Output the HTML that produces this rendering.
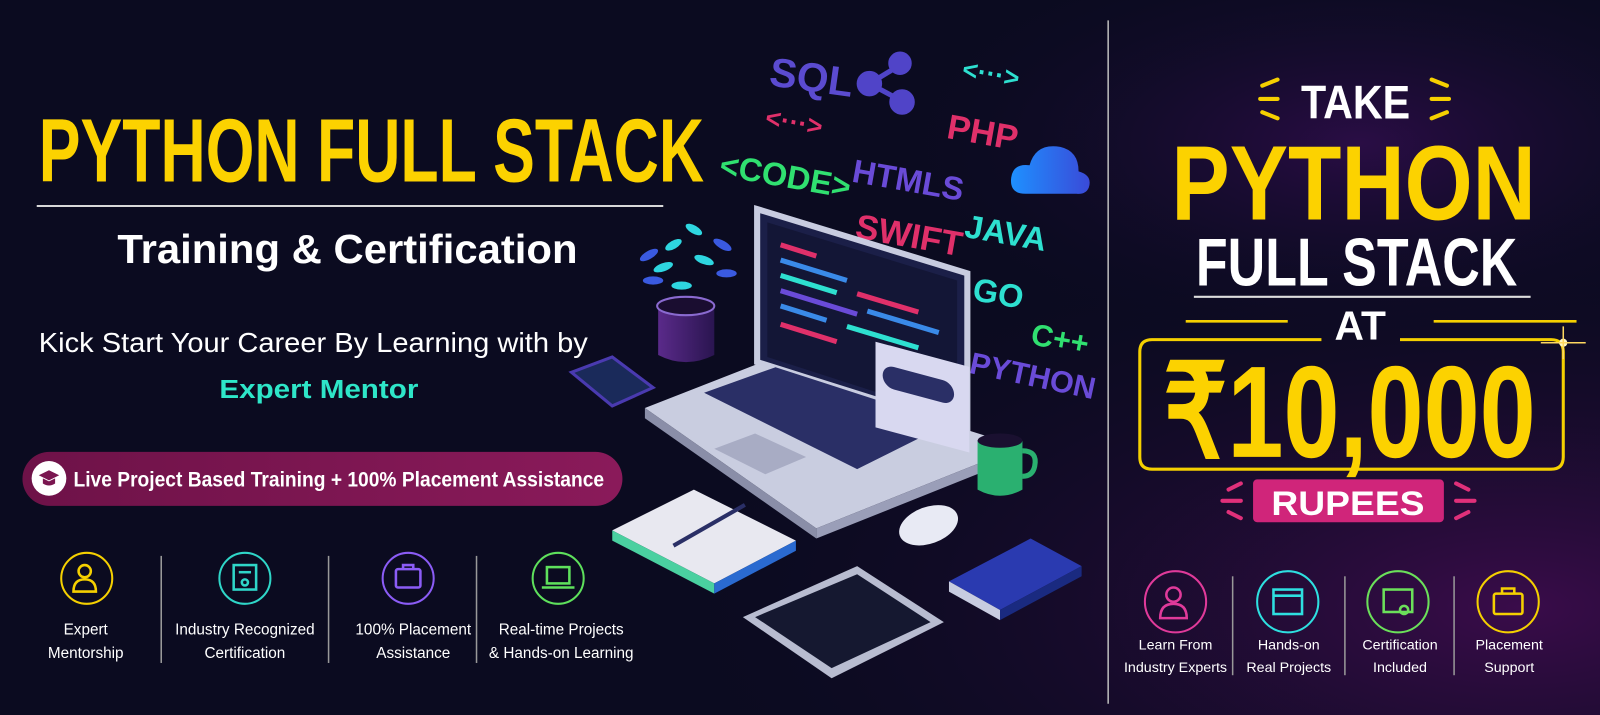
<!DOCTYPE html>
<html><head><meta charset="utf-8"><style>
html,body{margin:0;padding:0;background:#0a0a1e;width:1600px;height:715px;overflow:hidden}
svg{display:block}
text{font-family:"Liberation Sans",Arial,sans-serif}
</style></head><body>
<svg width="1600" height="715" viewBox="0 0 1568 701" preserveAspectRatio="none" xmlns="http://www.w3.org/2000/svg">
<defs>
<radialGradient id="bgR" cx="0.95" cy="0.85" r="0.55">
<stop offset="0" stop-color="#3a0c4a"/><stop offset="1" stop-color="#0b0b22" stop-opacity="0"/>
</radialGradient>
<radialGradient id="bgT" cx="0.85" cy="0.2" r="0.3">
<stop offset="0" stop-color="#2a0d45"/><stop offset="1" stop-color="#0b0b22" stop-opacity="0"/>
</radialGradient>
<linearGradient id="pill" x1="0" x2="1"><stop offset="0" stop-color="#6e1248"/><stop offset="1" stop-color="#8a1a5a"/></linearGradient>
<linearGradient id="pot" x1="0" x2="1"><stop offset="0" stop-color="#5a2a8a"/><stop offset="1" stop-color="#2a1550"/></linearGradient>
<linearGradient id="cloud" x1="0" x2="1"><stop offset="0" stop-color="#1e90ff"/><stop offset="1" stop-color="#3a4ad8"/></linearGradient>
</defs>
<rect width="1568" height="701" fill="#0b0b20"/>
<rect width="1568" height="701" fill="url(#bgR)"/>
<rect width="1568" height="701" fill="url(#bgT)"/>

<!-- LEFT -->
<text x="38" y="178" font-size="88" font-weight="bold" fill="#fcd200" textLength="652" lengthAdjust="spacingAndGlyphs">PYTHON FULL STACK</text>
<line x1="36" y1="202" x2="650" y2="202" stroke="#d8d8d8" stroke-width="2"/>
<text x="115" y="258" font-size="40" font-weight="bold" fill="#fff" textLength="451" lengthAdjust="spacingAndGlyphs">Training &amp; Certification</text>
<text x="38" y="345" font-size="27" fill="#fff" textLength="538" lengthAdjust="spacingAndGlyphs">Kick Start Your Career By Learning with by</text>
<text x="215" y="390" font-size="25" font-weight="bold" fill="#2ee6c8" textLength="195" lengthAdjust="spacingAndGlyphs">Expert Mentor</text>

<rect x="22" y="443" width="588" height="53" rx="26.5" fill="url(#pill)"/>
<circle cx="48" cy="469" r="17" fill="#fff"/>
<path d="M38 466 L48 461 L58 466 L48 471 Z" fill="#7a1650"/><path d="M42 469 v5 q6 4 12 0 v-5 l-6 3 z" fill="#7a1650"/>
<text x="72" y="477" font-size="21" font-weight="bold" fill="#fff" textLength="520" lengthAdjust="spacingAndGlyphs">Live Project Based Training + 100% Placement Assistance</text>

<g fill="none" stroke-width="2">
<circle cx="85" cy="567" r="25" stroke="#f5d000"/>
<circle cx="240" cy="567" r="25" stroke="#2fd6c8"/>
<circle cx="400" cy="567" r="25" stroke="#8b5cf6"/>
<circle cx="547" cy="567" r="25" stroke="#5ee05c"/>
</g>
<g fill="none" stroke-width="2.5">
<circle cx="83" cy="560" r="6" stroke="#f5d000"/><path d="M72 580 q0 -12 11 -12 q11 0 11 12 z" stroke="#f5d000"/>
<rect x="229" y="554" width="22" height="24" stroke="#2fd6c8"/><line x1="234" y1="561" x2="246" y2="561" stroke="#2fd6c8"/><circle cx="240" cy="571" r="3" stroke="#2fd6c8"/>
<rect x="388" y="558" width="24" height="18" rx="2" stroke="#8b5cf6"/><path d="M395 558 v-4 h10 v4" stroke="#8b5cf6"/>
<rect x="536" y="556" width="22" height="16" stroke="#5ee05c"/><line x1="531" y1="576" x2="563" y2="576" stroke="#5ee05c"/>
</g>
<g stroke="#999" stroke-width="1.5"><line x1="158" y1="545" x2="158" y2="650"/><line x1="322" y1="545" x2="322" y2="650"/><line x1="467" y1="545" x2="467" y2="650"/></g>
<g font-size="15" fill="#fff" text-anchor="middle">
<text x="84" y="622">Expert</text><text x="84" y="645">Mentorship</text>
<text x="240" y="622">Industry Recognized</text><text x="240" y="645">Certification</text>
<text x="405" y="622">100% Placement</text><text x="405" y="645">Assistance</text>
<text x="550" y="622">Real-time Projects</text><text x="550" y="645">&amp; Hands-on Learning</text>
</g>

<!-- MIDDLE ILLUSTRATION -->
<g font-weight="bold">
<text x="755" y="88" font-size="40" fill="#5b4bd0" transform="rotate(8 785 70)">SQL</text>
<g fill="#5044c8" stroke="#5044c8" stroke-width="5"><line x1="852" y1="82" x2="880" y2="65"/><line x1="852" y1="82" x2="882" y2="98"/><circle cx="852" cy="82" r="10"/><circle cx="882" cy="62" r="9"/><circle cx="884" cy="100" r="10"/></g>
<text x="943" y="80" font-size="26" fill="#2ee0d0" transform="rotate(10 965 72)">&lt;···&gt;</text>
<text x="750" y="128" font-size="26" fill="#e0306a" transform="rotate(10 775 120)">&lt;···&gt;</text>
<text x="928" y="140" font-size="34" fill="#e0306a" transform="rotate(10 955 130)">PHP</text>
<path d="M1005 190 q-16 0 -14 -16 q2 -14 18 -12 q6 -22 30 -18 q18 4 18 24 q14 4 10 16 q-3 7 -12 6 z" fill="url(#cloud)"/>
<text x="705" y="180" font-size="32" fill="#30e070" transform="rotate(10 750 170)">&lt;CODE&gt;</text>
<text x="835" y="185" font-size="32" fill="#6a4bd8" transform="rotate(10 875 175)">HTMLS</text>
<text x="838" y="240" font-size="34" fill="#e0306a" transform="rotate(10 878 230)">SWIFT</text>
<text x="945" y="238" font-size="32" fill="#2ee0d0" transform="rotate(10 978 230)">JAVA</text>
<text x="953" y="298" font-size="32" fill="#2ee0d0" transform="rotate(10 975 290)">GO</text>
<text x="1010" y="342" font-size="30" fill="#30e070" transform="rotate(10 1035 335)">C++</text>
<text x="950" y="375" font-size="30" fill="#6a4bd8" transform="rotate(12 995 365)">PYTHON</text>
</g>
<!-- plant -->
<g fill="#2ed6e0"><ellipse cx="660" cy="240" rx="9" ry="4" transform="rotate(-30 660 240)"/><ellipse cx="680" cy="225" rx="9" ry="4" transform="rotate(30 680 225)"/><ellipse cx="650" cy="262" rx="10" ry="4" transform="rotate(-20 650 262)"/><ellipse cx="690" cy="255" rx="10" ry="4" transform="rotate(20 690 255)"/><ellipse cx="668" cy="280" rx="10" ry="4"/></g>
<g fill="#3a5ae0"><ellipse cx="636" cy="250" rx="10" ry="4" transform="rotate(-30 636 250)"/><ellipse cx="708" cy="240" rx="10" ry="4" transform="rotate(30 708 240)"/><ellipse cx="640" cy="275" rx="10" ry="4"/><ellipse cx="712" cy="268" rx="10" ry="4"/></g>
<path d="M645 300 v48 q27 14 55 0 v-48 z" fill="url(#pot)"/><ellipse cx="672" cy="300" rx="28" ry="9" fill="#1a0d30" stroke="#8a6ad0" stroke-width="2"/>
<!-- phone -->
<polygon points="560,365 600,350 640,380 600,398" fill="#1a2a5a" stroke="#4a3ab0" stroke-width="3"/>
<!-- laptop screen -->
<polygon points="742,205 948,268 948,420 742,355" fill="#1b1f48" stroke="#c8cce0" stroke-width="6"/>
<polygon points="752,218 938,275 938,410 752,350" fill="#131636"/>
<g stroke-width="5">
<line x1="765" y1="240" x2="800" y2="251" stroke="#e0306a"/><line x1="765" y1="255" x2="830" y2="275" stroke="#3a8ae8"/><line x1="765" y1="270" x2="820" y2="287" stroke="#2ee0d0"/><line x1="840" y1="288" x2="900" y2="306" stroke="#e0306a"/><line x1="765" y1="285" x2="840" y2="308" stroke="#6a4bd8"/><line x1="765" y1="300" x2="810" y2="314" stroke="#3a8ae8"/><line x1="830" y1="320" x2="900" y2="341" stroke="#2ee0d0"/><line x1="765" y1="318" x2="820" y2="335" stroke="#e0306a"/><line x1="850" y1="305" x2="920" y2="326" stroke="#3a8ae8"/>
</g>
<!-- laptop base -->
<polygon points="632,400 742,357 1000,438 800,518" fill="#c9cde0"/>
<polygon points="632,400 800,518 800,528 632,410" fill="#8a8ea8"/>
<polygon points="800,518 1000,438 1000,448 800,528" fill="#9a9eb8"/>
<polygon points="690,385 760,360 930,415 840,460" fill="#2a2f66"/>
<polygon points="700,440 740,425 790,448 750,465" fill="#a8acc4"/>
<!-- popup -->
<rect x="858" y="335" width="92" height="84" fill="#d8d8f0" transform="skewY(15)" transform-origin="858 335"/>
<rect x="865" y="355" width="70" height="22" rx="11" fill="#2a2f66" transform="skewY(15)" transform-origin="858 335"/>
<!-- notebook -->
<polygon points="600,520 680,480 780,530 700,572" fill="#e8e8f0"/>
<polygon points="600,520 700,572 700,582 600,530" fill="#4ad0a0"/>
<polygon points="700,572 780,530 780,540 700,582" fill="#2a6ad0"/>
<line x1="660" y1="535" x2="730" y2="495" stroke="#2a2f66" stroke-width="4"/>
<!-- tablet -->
<polygon points="728,605 840,555 925,610 815,665" fill="#b8bcd0"/>
<polygon points="740,605 840,563 912,610 815,655" fill="#151830"/>
<!-- mug -->
<path d="M958 432 v48 q22 12 44 0 v-48 z" fill="#2ab070"/><ellipse cx="980" cy="432" rx="22" ry="7" fill="#1a1030"/><path d="M1002 442 q15 0 12 15 q-2 10 -12 10" stroke="#2ab070" stroke-width="5" fill="none"/>
<!-- mouse -->
<ellipse cx="910" cy="515" rx="30" ry="18" fill="#e8eaf4" transform="rotate(-20 910 515)"/>
<!-- book -->
<polygon points="930,570 1010,528 1060,555 980,598" fill="#2a3ab0"/>
<polygon points="930,570 980,598 980,608 930,580" fill="#c8cce0"/>
<polygon points="980,598 1060,555 1060,565 980,608" fill="#1a2a80"/>

<!-- RIGHT -->
<line x1="1086" y1="20" x2="1086" y2="690" stroke="#bbb" stroke-width="1.5"/>
<g stroke="#f5d000" stroke-width="4" stroke-linecap="round">
<line x1="1237" y1="84" x2="1252" y2="78"/><line x1="1235" y1="97" x2="1252" y2="97"/><line x1="1237" y1="110" x2="1252" y2="116"/>
<line x1="1403" y1="78" x2="1418" y2="84"/><line x1="1403" y1="97" x2="1420" y2="97"/><line x1="1403" y1="116" x2="1418" y2="110"/>
</g>
<text x="1275" y="116" font-size="46" font-weight="bold" fill="#fff" textLength="107" lengthAdjust="spacingAndGlyphs">TAKE</text>
<text x="1148" y="215" font-size="104" font-weight="bold" fill="#fcd200" textLength="357" lengthAdjust="spacingAndGlyphs">PYTHON</text>
<text x="1172" y="280" font-size="66" font-weight="bold" fill="#fff" textLength="315" lengthAdjust="spacingAndGlyphs">FULL STACK</text>
<line x1="1170" y1="291" x2="1500" y2="291" stroke="#ddd" stroke-width="2"/>
<g stroke="#f5d000" stroke-width="2.5"><line x1="1162" y1="315" x2="1262" y2="315"/><line x1="1405" y1="315" x2="1545" y2="315"/></g>
<text x="1333" y="333" font-size="40" font-weight="bold" fill="#fff" text-anchor="middle">AT</text>
<path d="M1295 333 H1129 q-12 0 -12 12 v103 q0 12 12 12 h391 q12 0 12 -12 v-103 q0 -12 -12 -12 H1372" fill="none" stroke="#f5d000" stroke-width="3"/>
<circle cx="1532" cy="336" r="4" fill="#fff6c0"/><path d="M1510 336 h44 M1532 320 v32" stroke="#ffd860" stroke-width="1.5"/>
<text x="1140" y="448" font-size="128" font-weight="bold" fill="#fcd200" textLength="365" lengthAdjust="spacingAndGlyphs">₹10,000</text>
<rect x="1228" y="470" width="187" height="42" rx="4" fill="#d0257a"/>
<text x="1321" y="505" font-size="34" font-weight="bold" fill="#fff" text-anchor="middle" textLength="150" lengthAdjust="spacingAndGlyphs">RUPEES</text>
<g stroke="#e0307a" stroke-width="4" stroke-linecap="round">
<line x1="1204" y1="480" x2="1216" y2="474"/><line x1="1198" y1="491" x2="1216" y2="491"/><line x1="1204" y1="502" x2="1216" y2="508"/>
<line x1="1427" y1="474" x2="1439" y2="480"/><line x1="1427" y1="491" x2="1445" y2="491"/><line x1="1427" y1="508" x2="1439" y2="502"/>
</g>
<g fill="none" stroke-width="2">
<circle cx="1152" cy="590" r="30" stroke="#e03a9a"/><circle cx="1262" cy="590" r="30" stroke="#2ee0e0"/>
<circle cx="1370" cy="590" r="30" stroke="#6be05a"/><circle cx="1478" cy="590" r="30" stroke="#f5d000"/>
</g>
<g fill="none" stroke-width="2.5">
<circle cx="1150" cy="583" r="7" stroke="#e03a9a"/><path d="M1137 606 q0 -14 13 -14 q13 0 13 14 z" stroke="#e03a9a"/>
<rect x="1248" y="578" width="28" height="24" stroke="#2ee0e0"/><line x1="1248" y1="584" x2="1276" y2="584" stroke="#2ee0e0"/>
<rect x="1356" y="578" width="28" height="22" stroke="#6be05a"/><circle cx="1376" cy="598" r="4" stroke="#6be05a"/>
<rect x="1464" y="582" width="28" height="20" rx="2" stroke="#f5d000"/><path d="M1472 582 v-5 h12 v5" stroke="#f5d000"/>
</g>
<g stroke="#999" stroke-width="1.5"><line x1="1208" y1="565" x2="1208" y2="662"/><line x1="1318" y1="565" x2="1318" y2="662"/><line x1="1425" y1="565" x2="1425" y2="662"/></g>
<g font-size="14" fill="#fff" text-anchor="middle">
<text x="1152" y="637">Learn From</text><text x="1152" y="659">Industry Experts</text>
<text x="1263" y="637">Hands-on</text><text x="1263" y="659">Real Projects</text>
<text x="1372" y="637">Certification</text><text x="1372" y="659">Included</text>
<text x="1479" y="637">Placement</text><text x="1479" y="659">Support</text>
</g>
</svg>
</body></html>
